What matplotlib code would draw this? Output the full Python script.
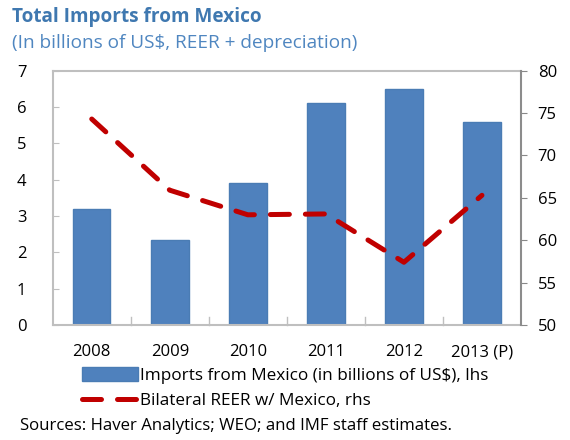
import matplotlib
matplotlib.use("Agg")
import matplotlib.pyplot as plt
from matplotlib.patches import Patch
from matplotlib.lines import Line2D

plt.rcParams['font.family'] = ['Open Sans', 'DejaVu Sans']

years = ["2008", "2009", "2010", "2011", "2012", "2013 (P)"]
imports_bn = [3.2, 2.35, 3.9, 6.1, 6.5, 5.6]
reer = [74.3, 65.9, 63.0, 63.1, 57.4, 65.3]

bar_label = "Imports from Mexico (in billions of US$), lhs"
line_label = "Bilateral REER w/ Mexico, rhs"

fig = plt.figure(figsize=(5.7, 4.4), dpi=100)
ax = fig.add_axes([0.0925, 0.2614, 0.8215, 0.5779])
x = list(range(len(years)))

bar_color = "#4F81BD"
line_color = "#C00000"
ax.bar(x, imports_bn, width=0.48, color=bar_color, edgecolor="#4A7CB4",
       linewidth=1.0, zorder=2)
ax.set_xlim(-0.5, len(years) - 0.5)
ax.set_ylim(0, 7)
ax.set_yticks(range(0, 8))
ax.set_xticks(x)
ax.set_xticklabels(years)
ax.tick_params(axis='x', length=0, pad=14, labelsize=12)
ax.tick_params(axis='y', direction='in', length=4, color="#BFBFBF",
               pad=19, labelsize=12)
for lbl in ax.get_yticklabels():
    lbl.set_horizontalalignment('right')

# separators between categories along the base
for b in range(1, len(years)):
    ax.plot([b - 0.5, b - 0.5], [0, 0.22], color="#BFBFBF", lw=1.0,
            zorder=1, clip_on=False)

for side in ['left', 'top', 'bottom']:
    ax.spines[side].set_color("#BFBFBF")
    ax.spines[side].set_linewidth(1.5)
ax.spines['right'].set_visible(False)

ax2 = ax.twinx()
ax2.plot(x, reer, color=line_color, lw=3.6, linestyle=(0, (3.8, 3.2)),
         dash_capstyle='round', solid_capstyle='round', zorder=3)
ax2.set_ylim(50, 80)
ax2.set_yticks(range(50, 81, 5))
ax2.tick_params(axis='y', direction='out', length=4, color="#888888",
                pad=8, labelsize=12)
for side in ['left', 'top', 'bottom']:
    ax2.spines[side].set_visible(False)
ax2.spines['right'].set_color("#8C8C8C")
ax2.spines['right'].set_linewidth(1.5)

fig.text(0.021, 0.962, "Total Imports from Mexico", fontsize=13.7,
         fontweight='bold', color="#3F78B0", va='center')
fig.text(0.021, 0.903, "(In billions of US$, REER + depreciation)",
         fontsize=13.7, color="#4F86C0", va='center')

handles = [Patch(facecolor=bar_color, edgecolor="#4A7CB4"),
           Line2D([0], [0], color=line_color, lw=3.6,
                  linestyle=(0, (3.8, 3.2)), dash_capstyle='round')]
fig.legend(handles, [bar_label, line_label], loc='upper left',
           bbox_to_anchor=(0.143, 0.165), frameon=False, fontsize=12.3,
           handlelength=3.3, handleheight=0.85, handletextpad=0.15,
           labelspacing=0.5, borderaxespad=0, borderpad=0)

fig.text(0.035, 0.032, "Sources: Haver Analytics; WEO; and IMF staff estimates.",
         fontsize=12.1, va='center')

fig.savefig("out.png", dpi=100)
